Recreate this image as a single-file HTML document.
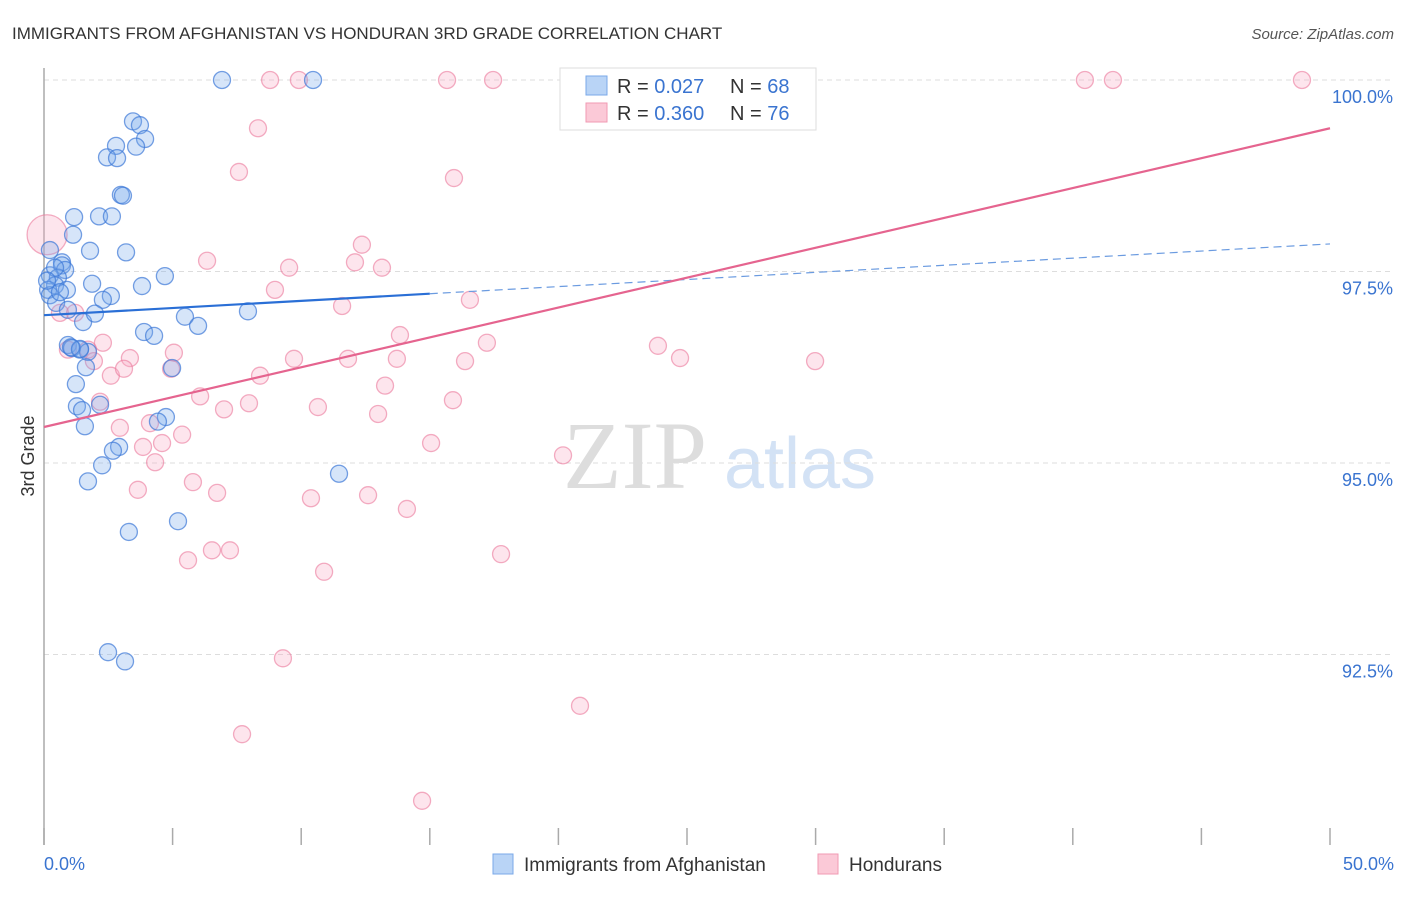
<!DOCTYPE html>
<html><head><meta charset="utf-8"><style>
body{margin:0;background:#fff;font-family:"Liberation Sans",sans-serif}
svg text{font-family:"Liberation Sans",sans-serif}
</style></head><body>
<svg id="c" width="1406" height="892" viewBox="0 0 1406 892" xmlns="http://www.w3.org/2000/svg">
<text x="12" y="39" font-size="17" fill="#333">IMMIGRANTS FROM AFGHANISTAN VS HONDURAN 3RD GRADE CORRELATION CHART</text>
<text x="1394" y="39" font-size="15" fill="#555" font-style="italic" text-anchor="end">Source: ZipAtlas.com</text>
<g>
<text x="635" y="488" font-size="96" fill="#ddd" text-anchor="middle" font-family="Liberation Serif" style="font-family:'Liberation Serif',serif">ZIP</text>
<text x="800" y="488" font-size="72" fill="#d3e2f5" text-anchor="middle">atlas</text>
</g>
<g id="grid"></g>
<g id="axes"></g>
<g id="pts"></g>
<g id="lines"></g>
<text transform="translate(34,456) rotate(-90)" font-size="18" fill="#333" text-anchor="middle">3rd Grade</text>
<g>
<rect x="560" y="68" width="256" height="62" fill="#fff" stroke="#ddd"/>
<rect x="586" y="76" width="21" height="19" fill="#b9d4f6" stroke="#7aa8e8"/>
<rect x="586" y="103" width="21" height="19" fill="#fbc9d7" stroke="#f09ab3"/>
<text x="617" y="93" font-size="20" fill="#333">R = <tspan fill="#3a74d0">0.027</tspan></text>
<text x="730" y="93" font-size="20" fill="#333">N = <tspan fill="#3a74d0">68</tspan></text>
<text x="617" y="120" font-size="20" fill="#333">R = <tspan fill="#3a74d0">0.360</tspan></text>
<text x="730" y="120" font-size="20" fill="#333">N = <tspan fill="#3a74d0">76</tspan></text>
</g>
<g>
<rect x="493" y="854" width="20" height="20" fill="#b9d4f6" stroke="#7aa8e8"/>
<text x="524" y="871" font-size="19" fill="#333">Immigrants from Afghanistan</text>
<rect x="818" y="854" width="20" height="20" fill="#fbc9d7" stroke="#f09ab3"/>
<text x="849" y="871" font-size="19" fill="#333">Hondurans</text>
</g>
</svg>
<script>
const blueX=[6.92,10.46,3.46,3.73,3.93,3.58,2.80,2.45,2.84,2.99,3.07,1.17,2.14,2.64,1.13,3.19,1.79,0.23,0.70,0.70,0.82,0.23,0.54,0.43,0.89,0.16,0.23,1.87,3.81,4.70,2.60,2.29,0.47,7.93,5.48,5.99,1.52,1.98,3.89,4.28,0.93,1.09,1.40,1.71,1.63,4.98,1.24,1.28,1.48,2.18,4.74,4.43,1.59,2.92,2.68,2.26,11.47,1.71,5.21,3.30,2.49,3.15,1.40,1.05,0.43,0.12,0.62,0.93];
const blueY=[100,100,99.46,99.41,99.23,99.13,99.14,98.99,98.98,98.50,98.49,98.21,98.22,98.22,97.98,97.75,97.77,97.78,97.62,97.58,97.52,97.45,97.42,97.32,97.26,97.26,97.19,97.34,97.31,97.44,97.18,97.13,97.09,96.98,96.91,96.79,96.84,96.95,96.71,96.66,96.54,96.50,96.48,96.45,96.25,96.24,96.03,95.74,95.69,95.76,95.60,95.54,95.48,95.21,95.16,94.97,94.86,94.76,94.24,94.10,92.53,92.41,96.49,96.51,97.55,97.38,97.23,97.00];
const pinkX=[8.79,9.91,15.67,17.46,25.04,40.47,41.56,48.91,8.32,7.58,15.94,0.12,12.36,12.09,6.34,9.53,13.14,8.98,11.59,16.56,0.62,1.21,13.84,17.22,23.87,24.73,29.98,9.72,11.82,13.72,16.37,2.29,1.71,0.93,1.94,3.34,5.05,2.60,3.11,4.94,8.40,13.26,6.07,2.18,7.97,7.00,10.65,12.99,15.90,4.12,2.95,5.37,4.59,3.85,15.05,20.18,4.32,5.79,3.65,6.73,10.38,12.60,14.11,6.53,7.23,5.60,17.77,10.89,9.29,20.84,7.70,14.70];
const pinkY=[100,100,100,100,100,100,100,100,99.37,98.80,98.72,97.98,97.85,97.62,97.64,97.55,97.55,97.26,97.05,97.13,96.96,96.96,96.67,96.57,96.53,96.37,96.33,96.36,96.36,96.36,96.33,96.57,96.48,96.48,96.33,96.37,96.44,96.14,96.23,96.23,96.14,96.01,95.87,95.80,95.78,95.70,95.73,95.64,95.82,95.52,95.46,95.37,95.26,95.21,95.26,95.10,95.01,94.75,94.65,94.61,94.54,94.58,94.40,93.86,93.86,93.73,93.81,93.58,92.45,91.83,91.46,90.59];
const pinkR=[]; // index 11 is the large bubble
const yTicks=[100,97.5,95,92.5];
const yTickLabels=["100.0%","97.5%","95.0%","92.5%"];
const xTicks=[0,5,10,15,20,25,30,35,40,45,50];
const blueTrend=[[0,96.93],[15,97.21],[50,97.86]];
const pinkTrend=[[0,95.47],[50,99.37]];
const NS="http://www.w3.org/2000/svg";
const X=v=>44+v*25.72, Y=v=>80+(100-v)*76.6;
function mk(t,a,p){const e=document.createElementNS(NS,t);for(const k in a)e.setAttribute(k,a[k]);p.appendChild(e);return e;}
const grid=document.getElementById('grid'),axes=document.getElementById('axes'),pts=document.getElementById('pts'),lines=document.getElementById('lines');
yTicks.forEach((t,i)=>{
 const g=mk('line',{x1:44,x2:1394,y1:Y(t),y2:Y(t),stroke:'#ddd','stroke-dasharray':'5,4'},grid);
 
 
 const l=mk('text',{x:1393,y:Y(t)+23,'font-size':18,fill:'#3a74d0','text-anchor':'end'},axes);
 l.textContent=yTickLabels[i];
 
 
});
const ax=mk('line',{x1:44,x2:44,y1:68,y2:845,stroke:'#aaa','stroke-width':1.5},axes);


xTicks.forEach(t=>{
 const k=mk('line',{x1:X(t),x2:X(t),y1:828,y2:845,stroke:'#aaa','stroke-width':1.5},axes);
 
 
});
const xl0=mk('text',{x:44,y:870,'font-size':18,fill:'#3a74d0'},axes);xl0.textContent='0.0%';


const xl1=mk('text',{x:1394,y:870,'font-size':18,fill:'#3a74d0','text-anchor':'end'},axes);xl1.textContent='50.0%';


pinkX.forEach((x,i)=>{
 const c=mk('circle',{cx:X(x),cy:Y(pinkY[i]),r:i===11?20:8.5,fill:'rgba(248,170,195,0.3)',stroke:'rgba(235,120,155,0.6)','stroke-width':1.3},pts);
 
 
});
blueX.forEach((x,i)=>{
 const c=mk('circle',{cx:X(x),cy:Y(blueY[i]),r:8.5,fill:'rgba(120,170,235,0.3)',stroke:'rgba(60,120,215,0.7)','stroke-width':1.3},pts);
 
 
});
const b1=mk('line',{x1:X(blueTrend[0][0]),y1:Y(blueTrend[0][1]),x2:X(blueTrend[1][0]),y2:Y(blueTrend[1][1]),stroke:'#2a6fd6','stroke-width':2.2},lines);


const b2=mk('line',{x1:X(blueTrend[1][0]),y1:Y(blueTrend[1][1]),x2:X(blueTrend[2][0]),y2:Y(blueTrend[2][1]),stroke:'#6b9be0','stroke-width':1.2,'stroke-dasharray':'8,5'},lines);


const p1=mk('line',{x1:X(pinkTrend[0][0]),y1:Y(pinkTrend[0][1]),x2:X(pinkTrend[1][0]),y2:Y(pinkTrend[1][1]),stroke:'#e5648f','stroke-width':2.2},lines);


</script>
</body></html>
